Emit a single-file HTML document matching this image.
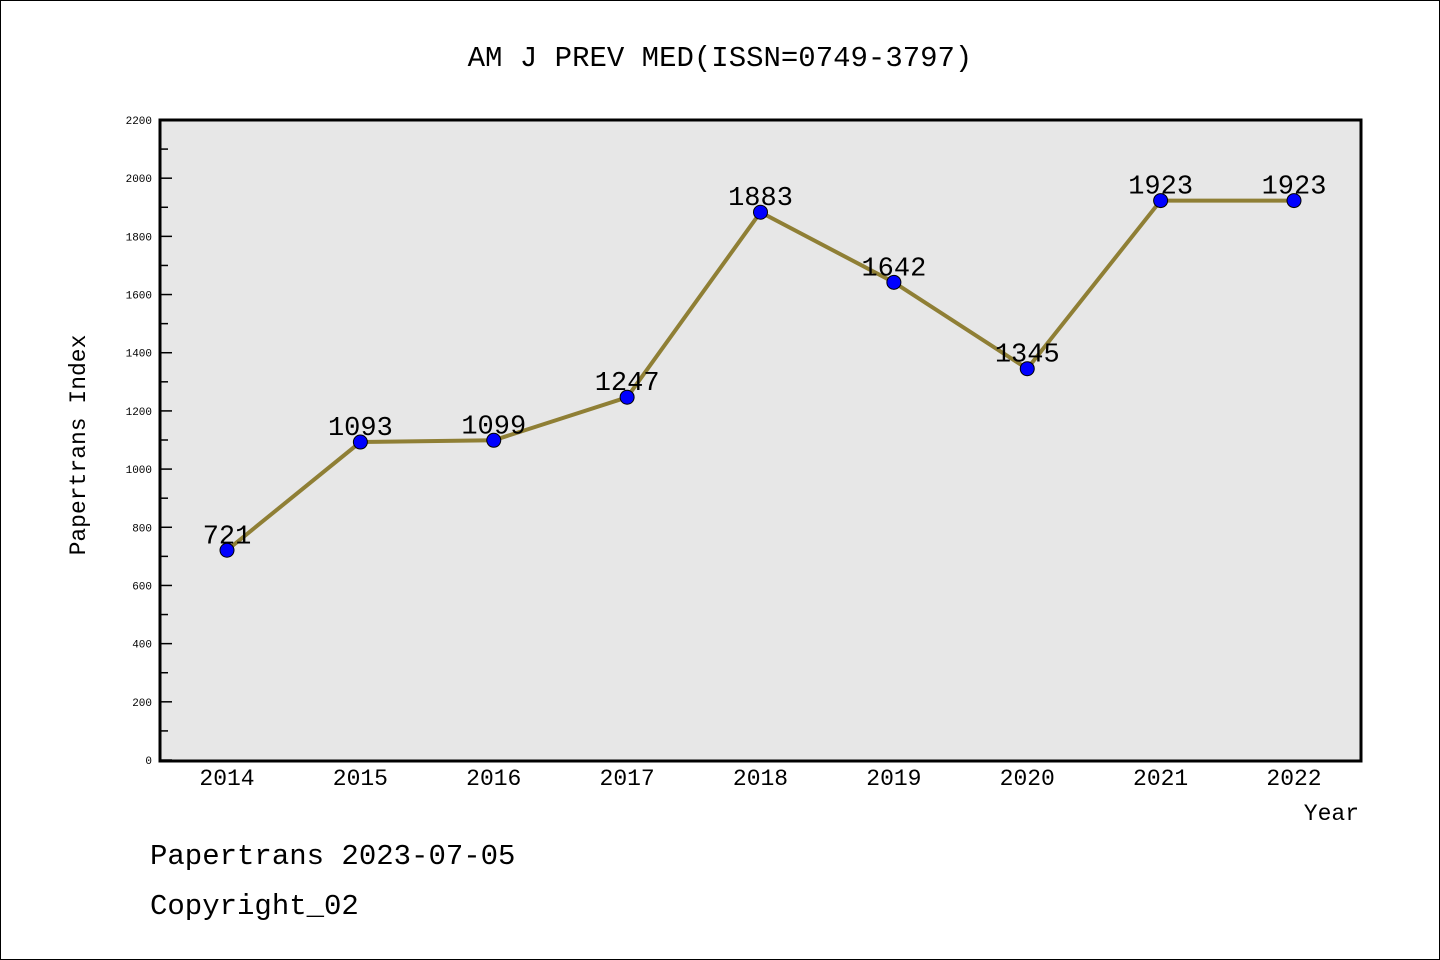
<!DOCTYPE html>
<html><head><meta charset="utf-8"><style>
body{margin:0;background:#fff}
svg{display:block}
text{font-family:"WenQuanYi Zen Hei","Liberation Mono",monospace}
</style></head><body>
<svg id="c" width="1440" height="960">
<rect x="0.5" y="0.5" width="1439" height="959" fill="#fff" stroke="#000"/>
<text x="720" y="66" text-anchor="middle" font-size="29">AM J PREV MED(ISSN=0749-3797)</text>
<rect x="160" y="120" width="1201" height="641" fill="#e7e7e7" stroke="#000" stroke-width="3"/>
<text transform="translate(85,445) rotate(-90)" text-anchor="middle" font-size="23">Papertrans Index</text>
<text x="1359" y="820" text-anchor="end" font-size="23">Year</text>
<text x="150" y="864" font-size="29">Papertrans 2023-07-05</text>
<text x="150" y="914" font-size="29">Copyright_02</text>
<g id="g"></g>
</svg>
<script>
const years=[2014,2015,2016,2017,2018,2019,2020,2021,2022];
const values=[721,1093,1099,1247,1883,1642,1345,1923,1923];
const yTicks=[0,200,400,600,800,1000,1200,1400,1600,1800,2000,2200];
const NS="http://www.w3.org/2000/svg";
const g=document.getElementById('g');
const X=i=>227+i*(1294-227)/8;
const Y=v=>760-v*640/2200;
function mk(t,a,txt){const e=document.createElementNS(NS,t);for(const k in a)e.setAttribute(k,a[k]);if(txt!=null)e.textContent=txt;g.appendChild(e);return e;}
yTicks.forEach(v=>{
 const e=mk('line',{x1:160,x2:172,y1:Y(v),y2:Y(v),stroke:'#000','stroke-width':1.5});
 
 
 if(v<2200){const m=mk('line',{x1:160,x2:168,y1:Y(v+100),y2:Y(v+100),stroke:'#000','stroke-width':1.5});
 
 }
 const t=mk('text',{x:152,y:Y(v)+4,'text-anchor':'end','font-size':11},String(v));
 
 
});
years.forEach((yr,i)=>{
 const t=mk('text',{x:X(i),y:785,'text-anchor':'middle','font-size':23},String(yr));
 
 
});
const line=mk('polyline',{points:values.map((v,i)=>X(i)+','+Y(v)).join(' '),fill:'none',stroke:'#8f7f35','stroke-width':4});


values.forEach((v,i)=>{
 const c=mk('circle',{cx:X(i),cy:Y(v),r:7,fill:'#0000ff',stroke:'#000','stroke-width':1});
 
 
 const t=mk('text',{x:X(i),y:Y(v)-7,'text-anchor':'middle','font-size':27},String(v));
 
 
});
</script>
</body></html>
